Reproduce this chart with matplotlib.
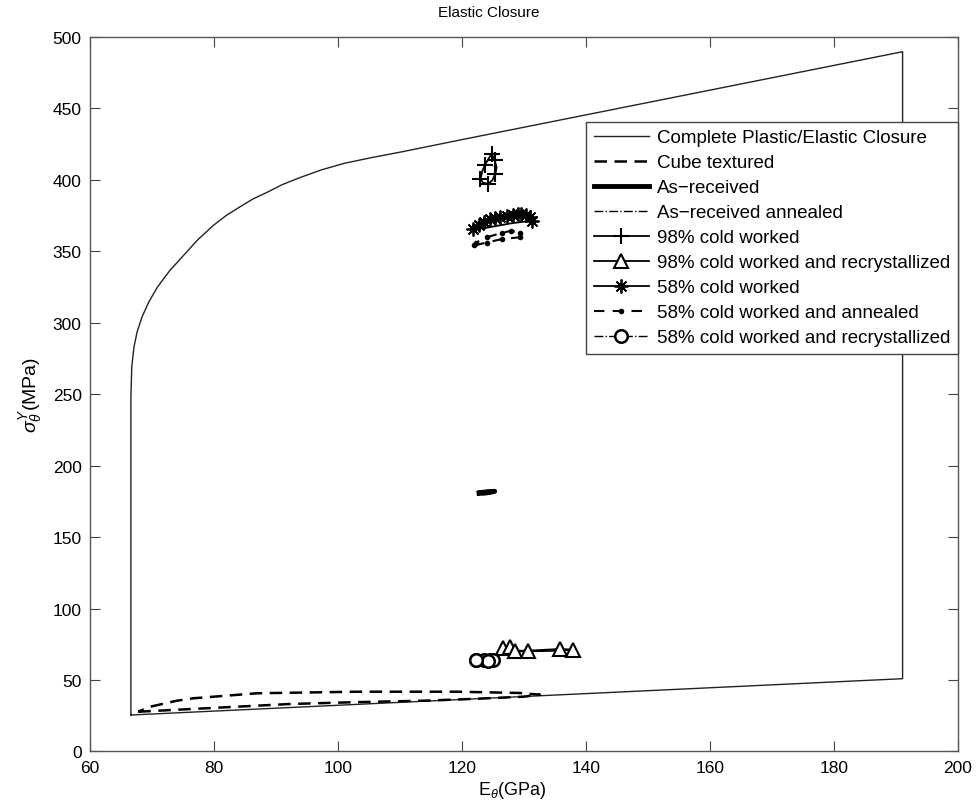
import numpy as np
import matplotlib
matplotlib.use("Agg")
import matplotlib.pyplot as plt

plt.rcParams['font.family'] = ['Liberation Sans', 'DejaVu Sans']
plt.rcParams['mathtext.fontset'] = 'custom'
plt.rcParams['mathtext.rm'] = 'Liberation Sans'
plt.rcParams['mathtext.it'] = 'Liberation Sans:italic'

# full plastic/elastic closure boundary
closure_E = [66.6, 66.6, 66.74, 67.1, 67.6, 68.4, 69.5, 70.86, 72.8, 75.05, 77.4, 79.9, 82.0,
             84.2, 86.3, 88.5, 91.0, 93.9, 97.3, 101.0, 105.5, 110.0, 120.0, 191.1, 191.1, 66.6]
closure_S = [25.5, 248.0, 269.0, 283.0, 293.5, 304.0, 314.5, 324.7, 336.0, 346.8, 358.0, 368.0, 375.0,
             381.0, 386.5, 391.0, 396.5, 401.5, 406.8, 411.4, 415.5, 419.2, 428.0, 489.5, 50.9, 25.5]

cube_E = [67.8, 80.0, 92.3, 103.0, 113.8, 122.0, 129.9, 132.6, 129.4, 119.2, 103.0, 86.9, 76.7, 74.0, 69.4, 67.8]
cube_S = [27.8, 30.5, 33.2, 34.5, 35.5, 36.8, 38.3, 39.7, 40.9, 41.8, 41.8, 40.7, 37.2, 35.5, 31.0, 27.8]

asr_E = [122.8, 123.5, 124.3, 125.3, 124.5, 123.5, 122.8]
asr_S = [180.8, 181.4, 181.8, 182.0, 181.2, 180.6, 180.8]

asr_ann_E = [122.9, 123.6, 124.4, 125.2, 124.4, 123.6, 122.9]
asr_ann_S = [180.9, 181.3, 181.6, 181.8, 181.1, 180.7, 180.9]

cw98_E = [124.2, 124.9, 125.4, 125.6, 125.3, 124.8, 124.2, 123.7, 123.3, 123.0, 123.4, 124.2]
cw98_S = [397.0, 399.5, 404.0, 408.6, 413.5, 418.0, 414.0, 410.0, 406.0, 400.5, 398.0, 397.0]

rx98_E = [126.7, 127.8, 128.6, 130.7, 135.8, 138.0, 134.0, 130.0, 127.5, 126.7]
rx98_S = [72.5, 73.0, 70.5, 70.5, 71.7, 71.2, 70.3, 70.0, 70.3, 72.5]

cw58_E = [121.8, 122.8, 123.6, 124.5, 125.4, 126.2, 127.3, 128.3, 129.0, 129.6, 130.3, 131.0, 131.3, 128.0, 123.5, 121.8]
cw58_S = [365.5, 368.5, 370.5, 372.5, 373.0, 373.7, 374.5, 375.3, 375.8, 376.0, 375.2, 373.7, 371.3, 369.5, 366.0, 365.5]

ann58_E = [122.0, 124.0, 126.5, 129.4, 129.4, 128.0, 126.4, 124.0, 122.3]
ann58_S = [354.0, 356.0, 358.5, 359.7, 362.5, 364.3, 362.7, 359.7, 356.0]

rx58_E = [122.3, 123.6, 124.6, 125.1, 124.2, 122.3]
rx58_S = [63.8, 64.0, 64.0, 63.8, 63.6, 63.8]

labels = ['Complete Plastic/Elastic Closure', 'Cube textured', 'As\u2212received',
          'As\u2212received annealed', '98% cold worked',
          '98% cold worked and recrystallized', '58% cold worked',
          '58% cold worked and annealed', '58% cold worked and recrystallized']

fig = plt.figure(figsize=(9.76, 8.04), dpi=100)
ax = fig.add_axes([0.0922, 0.0641, 0.8891, 0.8890])

ax.plot(closure_E, closure_S, color='#222222', lw=1.0, label=labels[0])
ax.plot(cube_E, cube_S, color='black', lw=1.8, ls=(0, (5, 3)), label=labels[1])
ax.plot(asr_E, asr_S, color='black', lw=3.5, label=labels[2])
ax.plot(asr_ann_E, asr_ann_S, color='black', lw=1.0, ls='-.', label=labels[3])
ax.plot(cw98_E, cw98_S, color='black', lw=1.3, marker='+', ms=12, mew=1.5,
        markevery=[0, 2, 4, 5, 7, 9], label=labels[4])
ax.plot(rx98_E, rx98_S, color='black', lw=1.3, marker='^', ms=10, mew=1.5,
        mfc='white', markevery=[0, 1, 2, 3, 4, 5], label=labels[5])
ax.plot(cw58_E, cw58_S, color='black', lw=1.3, marker=(8, 2, 0), ms=10, mew=1.3,
        markevery=list(range(13)), label=labels[6])
ax.plot(ann58_E, ann58_S, color='black', lw=1.5, ls=(0, (5, 4)), marker='.', ms=6,
        label=labels[7])
ax.plot(rx58_E, rx58_S, color='black', lw=1.0, ls='-.', marker='o', ms=9, mew=1.8,
        mfc='white', label=labels[8])

ax.set_xlim(60, 200)
ax.set_ylim(0, 500)
ax.set_xticks(np.arange(60, 201, 20))
ax.set_yticks(np.arange(0, 501, 50))
ax.tick_params(direction='in', length=7, width=0.8, top=True, right=True,
               labelsize=12.5, color='#444444', pad=6)
for s in ax.spines.values():
    s.set_color('#555555')
    s.set_linewidth(1.0)

ax.set_title('Elastic Closure', fontsize=11, pad=15, x=0.459)
ax.set_xlabel(r'E$_\theta$(GPa)', fontsize=13, labelpad=2)
ax.xaxis.set_label_coords(0.487, -0.038)
ax.set_ylabel(r'$\sigma_\theta^Y$(MPa)', fontsize=14, labelpad=6)

leg = ax.legend(loc='upper right', bbox_to_anchor=(1.0, 0.881), fontsize=13.5,
                numpoints=1, handlelength=2.93, handletextpad=0.43,
                labelspacing=0.42, borderpad=0.4, fancybox=False,
                framealpha=1, borderaxespad=0)
leg.get_frame().set_edgecolor('#444444')
leg.get_frame().set_linewidth(1.0)

fig.savefig('out.png', dpi=100)
